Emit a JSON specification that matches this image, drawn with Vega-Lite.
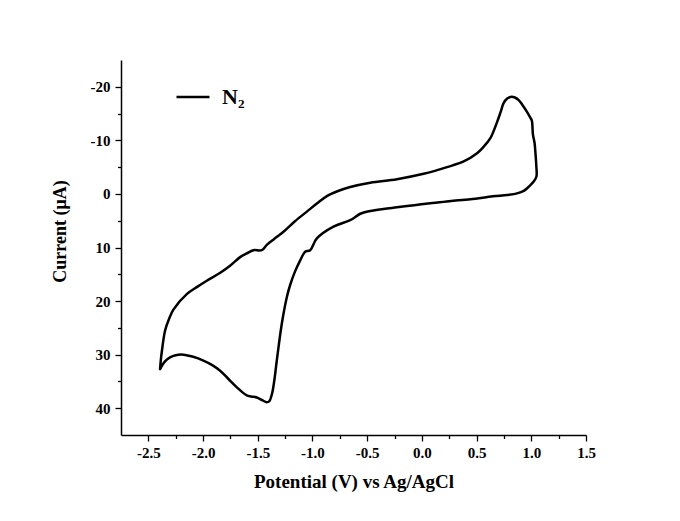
{
  "$schema": "https://vega.github.io/schema/vega-lite/v6.json",
  "width": 465,
  "height": 375,
  "autosize": {"type": "none"},
  "padding": {"left": 121, "top": 60, "right": 94, "bottom": 86},
  "background": "white",
  "config": {
    "view": {"stroke": null},
    "font": "Liberation Serif"
  },
  "data": {
    "values": [
      {"i": 0, "v": -2.393, "c": 32.7, "s": "N₂"},
      {"i": 1, "v": -2.385, "c": 30.8, "s": "N₂"},
      {"i": 2, "v": -2.378, "c": 29.6, "s": "N₂"},
      {"i": 3, "v": -2.347, "c": 25.5, "s": "N₂"},
      {"i": 4, "v": -2.31, "c": 23.3, "s": "N₂"},
      {"i": 5, "v": -2.271, "c": 21.6, "s": "N₂"},
      {"i": 6, "v": -2.149, "c": 18.7, "s": "N₂"},
      {"i": 7, "v": -2.05, "c": 17.3, "s": "N₂"},
      {"i": 8, "v": -1.966, "c": 16.2, "s": "N₂"},
      {"i": 9, "v": -1.85, "c": 14.8, "s": "N₂"},
      {"i": 10, "v": -1.753, "c": 13.4, "s": "N₂"},
      {"i": 11, "v": -1.661, "c": 11.8, "s": "N₂"},
      {"i": 12, "v": -1.6, "c": 11.1, "s": "N₂"},
      {"i": 13, "v": -1.54, "c": 10.5, "s": "N₂"},
      {"i": 14, "v": -1.463, "c": 10.5, "s": "N₂"},
      {"i": 15, "v": -1.417, "c": 9.5, "s": "N₂"},
      {"i": 16, "v": -1.35, "c": 8.4, "s": "N₂"},
      {"i": 17, "v": -1.265, "c": 7.07, "s": "N₂"},
      {"i": 18, "v": -1.16, "c": 5.1, "s": "N₂"},
      {"i": 19, "v": -1.051, "c": 3.3, "s": "N₂"},
      {"i": 20, "v": -0.96, "c": 1.8, "s": "N₂"},
      {"i": 21, "v": -0.868, "c": 0.4, "s": "N₂"},
      {"i": 22, "v": -0.76, "c": -0.6, "s": "N₂"},
      {"i": 23, "v": -0.655, "c": -1.3, "s": "N₂"},
      {"i": 24, "v": -0.472, "c": -2.1, "s": "N₂"},
      {"i": 25, "v": -0.228, "c": -2.75, "s": "N₂"},
      {"i": 26, "v": 0.016, "c": -3.75, "s": "N₂"},
      {"i": 27, "v": 0.23, "c": -5.0, "s": "N₂"},
      {"i": 28, "v": 0.382, "c": -6.06, "s": "N₂"},
      {"i": 29, "v": 0.504, "c": -7.6, "s": "N₂"},
      {"i": 30, "v": 0.56, "c": -8.7, "s": "N₂"},
      {"i": 31, "v": 0.626, "c": -10.4, "s": "N₂"},
      {"i": 32, "v": 0.687, "c": -13.4, "s": "N₂"},
      {"i": 33, "v": 0.72, "c": -15.3, "s": "N₂"},
      {"i": 34, "v": 0.748, "c": -17.0, "s": "N₂"},
      {"i": 35, "v": 0.78, "c": -17.8, "s": "N₂"},
      {"i": 36, "v": 0.809, "c": -18.1, "s": "N₂"},
      {"i": 37, "v": 0.85, "c": -18.0, "s": "N₂"},
      {"i": 38, "v": 0.885, "c": -17.5, "s": "N₂"},
      {"i": 39, "v": 0.916, "c": -16.7, "s": "N₂"},
      {"i": 40, "v": 0.955, "c": -15.5, "s": "N₂"},
      {"i": 41, "v": 0.992, "c": -14.2, "s": "N₂"},
      {"i": 42, "v": 1.005, "c": -13.7, "s": "N₂"},
      {"i": 43, "v": 1.015, "c": -11.1, "s": "N₂"},
      {"i": 44, "v": 1.03, "c": -9.5, "s": "N₂"},
      {"i": 45, "v": 1.037, "c": -7.9, "s": "N₂"},
      {"i": 46, "v": 1.045, "c": -5.5, "s": "N₂"},
      {"i": 47, "v": 1.047, "c": -3.25, "s": "N₂"},
      {"i": 48, "v": 1.022, "c": -2.3, "s": "N₂"},
      {"i": 49, "v": 0.98, "c": -1.4, "s": "N₂"},
      {"i": 50, "v": 0.931, "c": -0.56, "s": "N₂"},
      {"i": 51, "v": 0.87, "c": -0.1, "s": "N₂"},
      {"i": 52, "v": 0.779, "c": 0.19, "s": "N₂"},
      {"i": 53, "v": 0.65, "c": 0.45, "s": "N₂"},
      {"i": 54, "v": 0.443, "c": 1.0, "s": "N₂"},
      {"i": 55, "v": 0.25, "c": 1.35, "s": "N₂"},
      {"i": 56, "v": 0.077, "c": 1.75, "s": "N₂"},
      {"i": 57, "v": -0.07, "c": 2.1, "s": "N₂"},
      {"i": 58, "v": -0.228, "c": 2.5, "s": "N₂"},
      {"i": 59, "v": -0.35, "c": 2.8, "s": "N₂"},
      {"i": 60, "v": -0.472, "c": 3.19, "s": "N₂"},
      {"i": 61, "v": -0.563, "c": 3.7, "s": "N₂"},
      {"i": 62, "v": -0.655, "c": 4.9, "s": "N₂"},
      {"i": 63, "v": -0.808, "c": 6.1, "s": "N₂"},
      {"i": 64, "v": -0.96, "c": 8.3, "s": "N₂"},
      {"i": 65, "v": -1.021, "c": 10.5, "s": "N₂"},
      {"i": 66, "v": -1.067, "c": 10.8, "s": "N₂"},
      {"i": 67, "v": -1.112, "c": 12.4, "s": "N₂"},
      {"i": 68, "v": -1.16, "c": 14.5, "s": "N₂"},
      {"i": 69, "v": -1.204, "c": 17.0, "s": "N₂"},
      {"i": 70, "v": -1.234, "c": 19.25, "s": "N₂"},
      {"i": 71, "v": -1.28, "c": 24.2, "s": "N₂"},
      {"i": 72, "v": -1.326, "c": 31.1, "s": "N₂"},
      {"i": 73, "v": -1.35, "c": 35.0, "s": "N₂"},
      {"i": 74, "v": -1.371, "c": 37.4, "s": "N₂"},
      {"i": 75, "v": -1.395, "c": 38.7, "s": "N₂"},
      {"i": 76, "v": -1.417, "c": 38.9, "s": "N₂"},
      {"i": 77, "v": -1.46, "c": 38.5, "s": "N₂"},
      {"i": 78, "v": -1.509, "c": 38.0, "s": "N₂"},
      {"i": 79, "v": -1.56, "c": 37.8, "s": "N₂"},
      {"i": 80, "v": -1.6, "c": 37.6, "s": "N₂"},
      {"i": 81, "v": -1.691, "c": 36.1, "s": "N₂"},
      {"i": 82, "v": -1.77, "c": 34.5, "s": "N₂"},
      {"i": 83, "v": -1.844, "c": 33.0, "s": "N₂"},
      {"i": 84, "v": -1.92, "c": 31.9, "s": "N₂"},
      {"i": 85, "v": -1.997, "c": 31.1, "s": "N₂"},
      {"i": 86, "v": -2.09, "c": 30.4, "s": "N₂"},
      {"i": 87, "v": -2.18, "c": 30.0, "s": "N₂"},
      {"i": 88, "v": -2.25, "c": 30.1, "s": "N₂"},
      {"i": 89, "v": -2.302, "c": 30.5, "s": "N₂"},
      {"i": 90, "v": -2.35, "c": 31.3, "s": "N₂"},
      {"i": 91, "v": -2.393, "c": 32.7, "s": "N₂"}
    ]
  },
  "mark": {"type": "line", "interpolate": "catmull-rom", "strokeWidth": 2.5, "strokeJoin": "round", "strokeCap": "round"},
  "encoding": {
    "order": {"field": "i", "type": "quantitative"},
    "x": {
      "field": "v",
      "type": "quantitative",
      "scale": {"domain": [-2.75, 1.5], "nice": false, "zero": false},
      "axis": {
        "title": "Potential (V) vs Ag/AgCl",
        "titleFont": "Liberation Serif",
        "titleFontSize": 19,
        "titleFontWeight": "bold",
        "titleColor": "black",
        "titlePadding": 12,
        "values": [-2.5, -2.25, -2.0, -1.75, -1.5, -1.25, -1.0, -0.75, -0.5, -0.25, 0.0, 0.25, 0.5, 0.75, 1.0, 1.25, 1.5],
        "labelExpr": "datum.value % 0.5 === 0 ? replace(format(datum.value, '.1f'), '−', '-') : ''",
        "labelFont": "Liberation Serif",
        "labelFontSize": 15,
        "labelFontWeight": "bold",
        "labelColor": "black",
        "labelPadding": 4,
        "labelFlush": false,
        "labelOverlap": false,
        "tickColor": "black",
        "tickWidth": 1.3,
        "tickSize": {"condition": {"test": "datum.value % 0.5 === 0", "value": 6}, "value": 3.5},
        "domainColor": "black",
        "domainWidth": 1.5,
        "grid": false
      }
    },
    "y": {
      "field": "c",
      "type": "quantitative",
      "scale": {"domain": [45, -25], "nice": false, "zero": false},
      "axis": {
        "title": "Current (μA)",
        "titleFont": "Liberation Serif",
        "titleFontSize": 18,
        "titleFontWeight": "bold",
        "titleColor": "black",
        "titleX": -52,
        "titleY": 171,
        "values": [-20, -15, -10, -5, 0, 5, 10, 15, 20, 25, 30, 35, 40],
        "labelExpr": "datum.value % 10 === 0 ? replace(format(datum.value, 'd'), '−', '-') : ''",
        "labelFont": "Liberation Serif",
        "labelFontSize": 15,
        "labelFontWeight": "bold",
        "labelColor": "black",
        "labelPadding": 5,
        "labelFlush": false,
        "labelOverlap": false,
        "tickColor": "black",
        "tickWidth": 1.3,
        "tickSize": {"condition": {"test": "datum.value % 10 === 0", "value": 6}, "value": 3.5},
        "domainColor": "black",
        "domainWidth": 1.5,
        "grid": false
      }
    },
    "color": {
      "field": "s",
      "type": "nominal",
      "scale": {"range": ["black"]},
      "legend": {
        "title": null,
        "orient": "none",
        "legendX": 54,
        "legendY": 19,
        "symbolType": "M-1,0L1,0",
        "symbolSize": 1089,
        "symbolStrokeWidth": 2.5,
        "symbolStrokeColor": "black",
        "labelFont": "Liberation Serif",
        "labelFontSize": 22,
        "labelFontWeight": "bold",
        "labelColor": "black",
        "labelOffset": 11
      }
    }
  }
}
